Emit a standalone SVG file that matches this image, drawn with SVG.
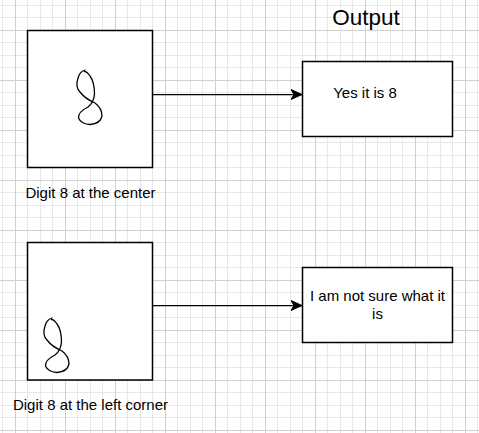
<svg xmlns="http://www.w3.org/2000/svg" xmlns:xlink="http://www.w3.org/1999/xlink" width="479" height="433" viewBox="0 0 479 433">
<style>
.box{fill:#ffffff;stroke:#000000;stroke-width:1.5}
.conn{fill:none;stroke:#000000;stroke-width:1.25}
.lbl{font-family:"Liberation Sans",Arial,sans-serif;font-size:15px;fill:#000000}
.title{font-family:"Liberation Sans",Arial,sans-serif;font-size:22.5px;fill:#000000}
.ink{fill:none;stroke:#000000;stroke-width:1.3;stroke-linecap:round;stroke-linejoin:round}
</style>
<defs>
<pattern id="grid" patternUnits="userSpaceOnUse" x="15" y="30" width="50" height="50">
<rect x="0" y="0" width="50" height="50" fill="#ffffff"/>
<g fill="#e8e8e8">
<rect x="12" y="0" width="1" height="50"/>
<rect x="25" y="0" width="1" height="50"/>
<rect x="37" y="0" width="1" height="50"/>
<rect x="0" y="12" width="50" height="1"/>
<rect x="0" y="25" width="50" height="1"/>
<rect x="0" y="37" width="50" height="1"/>
</g>
<g fill="#d0d0d0">
<rect x="0" y="0" width="1" height="50"/>
<rect x="0" y="0" width="50" height="1"/>
</g>
</pattern>
<marker id="arrow" markerUnits="userSpaceOnUse" markerWidth="12" markerHeight="12" refX="11" refY="5" orient="auto" viewBox="0 0 12 10">
<path d="M0,0 L11,5 L0,10 L3,5 Z" fill="#000000" stroke="#000000" stroke-width="1"/>
</marker>
<path id="eight" class="ink" d="M85,70 C82,71 79,74 78,78 C76,84 77,89 80,92 C83,96 88,100 95,103 C99,106 102,110 102,116 C101,121 96,124 90,124.5 C85,124.5 80,122 78.5,118 C78,113 82,110 88,107 C92,104 94,100 94.5,94 C94.5,88 93,80 90,76 C88,73 86,71.5 84.5,71.5"/>
</defs>
<rect x="0" y="0" width="479" height="433" fill="url(#grid)"/>

<text class="title" x="366" y="25" text-anchor="middle">Output</text>

<g id="connectors">
<path class="conn" d="M152.5,94.5 L302,94.5" marker-end="url(#arrow)"/>
<path class="conn" d="M152.5,305.5 L302,305.5" marker-end="url(#arrow)"/>
</g>

<g id="input-center">
<rect class="box" x="27.5" y="30.5" width="125" height="137"/>
<use xlink:href="#eight"/>
<text class="lbl" x="90.5" y="197.5" text-anchor="middle">Digit 8 at the center</text>
</g>

<g id="output-yes">
<rect class="box" x="302.5" y="61.5" width="150" height="75"/>
<text class="lbl" x="365" y="98" text-anchor="middle">Yes it is 8</text>
</g>

<g id="input-corner">
<rect class="box" x="27.5" y="242.5" width="125" height="137.5"/>
<use xlink:href="#eight" transform="translate(-33,248)"/>
<text class="lbl" x="90.5" y="409.5" text-anchor="middle">Digit 8 at the left corner</text>
</g>

<g id="output-unsure">
<rect class="box" x="302.5" y="267.5" width="150" height="75"/>
<text class="lbl" x="377.5" y="301" text-anchor="middle">I am not sure what it</text>
<text class="lbl" x="377.5" y="319" text-anchor="middle">is</text>
</g>
</svg>
